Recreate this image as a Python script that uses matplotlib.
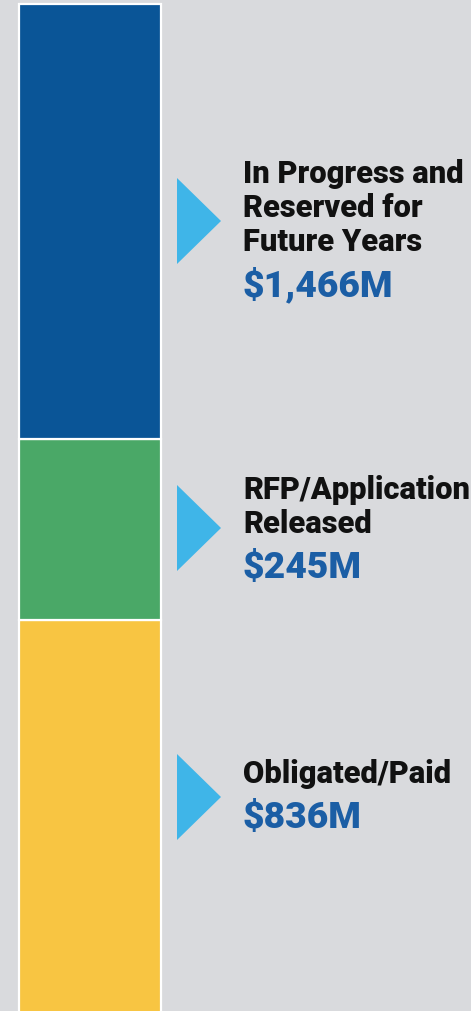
import numpy as np
import matplotlib.pyplot as plt
from matplotlib.patches import Polygon

# data, bottom segment first
labels = ['Obligated/Paid', 'RFP/Application\nReleased', 'In Progress and\nReserved for\nFuture Years']
amounts = [836, 245, 1466]  # $M
# the graphic is not drawn to scale, so these are the segment sizes read off the picture
seg_size = [395, 181, 435]
colors = ['#f8c542', '#4aa867', '#0a5597']

W, H = 471, 1011
bg = '#d9dadd'
arrow_col = '#3fb5e8'
amount_col = '#1b5ea5'

plt.rcParams['font.family'] = ['Roboto', 'DejaVu Sans']

fig = plt.figure(figsize=(W / 100, H / 100), dpi=100, facecolor=bg)
ax = fig.add_axes([0, 0, 1, 1])
ax.set_facecolor(bg)
ax.set_xlim(0, W)
ax.set_ylim(H, 0)  # pixel-like coords, y going down
ax.axis('off')

# stacked bar, drawn upwards from below the bottom edge
base = 1015
tops = base - np.cumsum(seg_size)
bottoms = tops + np.array(seg_size)
ax.bar(89.5, -np.array(seg_size), bottom=bottoms, width=142, color=colors,
       edgecolor='white', linewidth=1.6)

# arrows + labels, triangle centres and text block centres
tri_y = [797, 528, 221]
text_y = [795, 528, 229]
cap, line_gap, amt_gap = 21, 34, 45

for lab, amt, ty, cy in zip(labels, amounts, tri_y, text_y):
    ax.add_patch(Polygon([(177, ty - 43), (177, ty + 43), (221, ty)],
                         closed=True, color=arrow_col, lw=0))
    lines = lab.split('\n')
    block = cap + (len(lines) - 1) * line_gap + amt_gap
    base_y = cy - block / 2 + cap
    for i, ln in enumerate(lines):
        ax.text(243, base_y + i * line_gap, ln, fontsize=22.2, fontweight='heavy',
                color='#111111', va='baseline', ha='left')
    ax.text(243, base_y + (len(lines) - 1) * line_gap + amt_gap, f'${amt:,}M',
            fontsize=26.8, fontweight='heavy', color=amount_col, va='baseline', ha='left')

fig.savefig('out.png', dpi=100, facecolor=bg)
